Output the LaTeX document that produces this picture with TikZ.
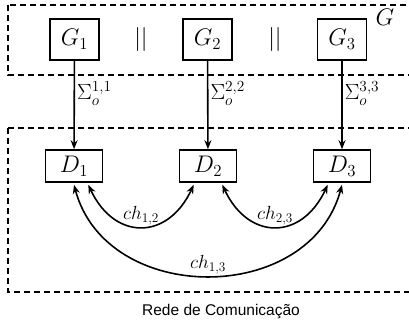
\RequirePackage{fix-cm}
\documentclass[tikz,border=0pt]{standalone}
\usepackage{fontspec}
\newfontfamily\capfont{Liberation Sans}
\usetikzlibrary{arrows.meta}
\begin{document}
\begin{tikzpicture}[x=1pt,y=-1pt,
  big/.style={font=\fontsize{24}{26}\selectfont},
  gbox/.style={draw,big,line width=1.6pt,minimum width=49pt,minimum height=41pt,inner sep=0pt},
  dbox/.style={draw,big,line width=1.6pt,minimum width=57pt,minimum height=32pt,inner sep=0pt},
  region/.style={draw,line width=1.6pt,dash pattern=on 6pt off 4pt},
  flow/.style={line width=1.6pt,-{Stealth[length=9pt,width=7pt]}},
  chan/.style={line width=1.6pt,{Stealth[length=9pt,width=7pt]}-{Stealth[length=9pt,width=7pt]}},
  lbl/.style={font=\fontsize{19}{21}\selectfont,inner sep=1pt},
  sig/.style={font=\fontsize{22}{24}\selectfont,inner sep=1pt,anchor=west}]
\useasboundingbox (0,0) rectangle (409,331);
\draw[region] (8,5) rectangle (412,75);
\draw[region] (8,128) rectangle (412,292);
\node[gbox] (G1) at (74.5,39.5) {$G_1$};
\node[gbox] (G2) at (207.5,39.5) {$G_2$};
\node[gbox] (G3) at (342,39.5) {$G_3$};
\node[big] (p1) at (141,40) {$||$};
\node[big] (p2) at (275,40) {$||$};
\node[big] (Gl) at (385,17) {$G$};
\node[dbox] (D1) at (74,166) {$D_1$};
\node[dbox] (D2) at (208,166) {$D_2$};
\node[dbox] (D3) at (342,166) {$D_3$};
\draw[flow] (G1) -- node[sig,pos=0.37,xshift=1pt] {$\Sigma_o^{1,1}$} (D1);
\draw[flow] (G2) -- node[sig,pos=0.37,xshift=1pt] {$\Sigma_o^{2,2}$} (D2);
\draw[flow] (G3) -- node[sig,pos=0.37,xshift=1pt] {$\Sigma_o^{3,3}$} (D3);
\draw[chan] ([xshift=-15pt,yshift=-2pt]D1.south east) to[out=-65,in=-115,looseness=1.5] node[lbl,above] {$ch_{1,2}$} ([xshift=15pt,yshift=-2pt]D2.south west);
\draw[chan] ([xshift=-15pt,yshift=-2pt]D2.south east) to[out=-65,in=-115,looseness=1.5] node[lbl,above] {$ch_{2,3}$} ([xshift=15pt,yshift=-2pt]D3.south west);
\draw[chan] ([yshift=-2pt]D1.south) to[out=-75,in=-105,looseness=1.2] node[lbl,above] {$ch_{1,3}$} ([yshift=-2pt]D3.south);
\node[font=\capfont\fontsize{15.5}{18}\selectfont] (cap) at (221,312) {Rede de Comunicação};
\end{tikzpicture}
\end{document}
